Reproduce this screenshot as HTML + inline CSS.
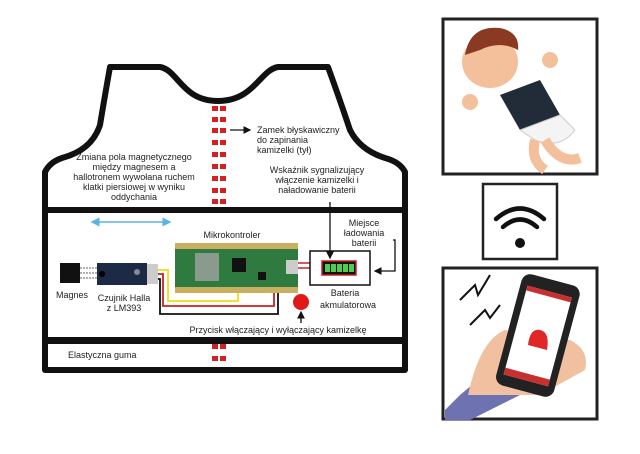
<!DOCTYPE html>
<html><head><meta charset="utf-8"><style>
body{margin:0;background:#fff;}
svg{display:block;font-family:"Liberation Sans",sans-serif;}
</style></head><body>
<svg width="640" height="454" viewBox="0 0 640 454" xmlns="http://www.w3.org/2000/svg">
<defs>
<marker id="ah" markerWidth="6" markerHeight="6" refX="5" refY="3" orient="auto"><path d="M0,0 L6,3 L0,6z" fill="#111"/></marker>
<marker id="bh" markerWidth="6" markerHeight="6" refX="5" refY="3" orient="auto-start-reverse"><path d="M0,0 L6,3 L0,6z" fill="#5ab4e0"/></marker>
</defs>
<!-- vest -->
<path d="M110,67 L160,67 C178,70 182,101 218,101 C254,101 260,70 278,67 L328,67 Q340,100 350,130 Q360,150 385,158 Q400,162 405,172 L405,370 L45,370 L45,172 Q50,162 62,158 Q92,150 100,125 Q105,95 110,67 Z" fill="#fff" stroke="#111" stroke-width="6" stroke-linejoin="round"/>
<rect x="45" y="207" width="360" height="6" fill="#111"/>
<rect x="45" y="337" width="360" height="7" fill="#111"/>
<!-- red dashes -->
<g fill="#d42020">
<rect x="212" y="106" width="6" height="5"/><rect x="220" y="106" width="6" height="5"/>
<rect x="212" y="117" width="6" height="5"/><rect x="220" y="117" width="6" height="5"/>
<rect x="212" y="128" width="6" height="5"/><rect x="220" y="128" width="6" height="5"/>
<rect x="212" y="140" width="6" height="5"/><rect x="220" y="140" width="6" height="5"/>
<rect x="212" y="152" width="6" height="5"/><rect x="220" y="152" width="6" height="5"/>
<rect x="212" y="164" width="6" height="5"/><rect x="220" y="164" width="6" height="5"/>
<rect x="212" y="176" width="6" height="5"/><rect x="220" y="176" width="6" height="5"/>
<rect x="212" y="188" width="6" height="5"/><rect x="220" y="188" width="6" height="5"/>
<rect x="212" y="199" width="6" height="5"/><rect x="220" y="199" width="6" height="5"/>
<rect x="212" y="344" width="6" height="5"/><rect x="220" y="344" width="6" height="5"/>
<rect x="212" y="356" width="6" height="5"/><rect x="220" y="356" width="6" height="5"/>
</g>
<line x1="230" y1="130" x2="250" y2="130" stroke="#111" stroke-width="1.3" marker-end="url(#ah)"/>
<g font-size="9" fill="#222">
<text x="257" y="133">Zamek błyskawiczny</text>
<text x="257" y="143">do zapinania</text>
<text x="257" y="153">kamizelki (tył)</text>
<g text-anchor="middle">
<text x="134" y="160">Zmiana pola magnetycznego</text>
<text x="134" y="170">między magnesem a</text>
<text x="134" y="180">hallotronem wywołana ruchem</text>
<text x="134" y="190">klatki piersiowej w wyniku</text>
<text x="134" y="200">oddychania</text>
<text x="317" y="173">Wskaźnik sygnalizujący</text>
<text x="317" y="183">włączenie kamizelki i</text>
<text x="317" y="193">naładowanie baterii</text>
<text x="364" y="226">Miejsce</text>
<text x="364" y="236">ładowania</text>
<text x="364" y="246">baterii</text>
<text x="232" y="238">Mikrokontroler</text>
<text x="72" y="298">Magnes</text>
<text x="124" y="301">Czujnik Halla</text>
<text x="124" y="311">z LM393</text>
<text x="345" y="296">Bateria</text>
<text x="348" y="308">akmulatorowa</text>
<text x="278" y="333">Przycisk włączający i wyłączający kamizelkę</text>
</g>
<text x="68" y="358">Elastyczna guma</text>
</g>
<line x1="92" y1="222" x2="170" y2="222" stroke="#5ab4e0" stroke-width="1.5" marker-start="url(#bh)" marker-end="url(#bh)"/>
<!-- magnet & sensor -->
<rect x="60" y="263" width="20" height="20" fill="#111"/>
<g stroke="#333" stroke-dasharray="2,1" stroke-width="0.8"><line x1="80" y1="268" x2="98" y2="268"/><line x1="80" y1="273" x2="98" y2="273"/><line x1="80" y1="278" x2="98" y2="278"/></g>
<rect x="97" y="263" width="50" height="22" fill="#1d2a45"/>
<rect x="147" y="264" width="11" height="20" fill="#ccc"/>
<circle cx="102" cy="274" r="3" fill="#000"/>
<circle cx="137" cy="272" r="3" fill="#889"/>
<!-- wires -->
<path d="M158,270 L168,270 L168,301 L238,301 L238,292" fill="none" stroke="#f0e030" stroke-width="2"/>
<path d="M158,274 L163,274 L163,306 L274,306 L274,292" fill="none" stroke="#c82020" stroke-width="1.8"/>
<path d="M158,279 L160,279 L160,314 L278,314 L278,292" fill="none" stroke="#111" stroke-width="1.8"/>
<path d="M298,263 L310,263 M298,268 L310,268" stroke="#c82020" stroke-width="1.5"/>
<!-- MCU -->
<rect x="175" y="243" width="123" height="50" fill="#2f7a3e"/>
<rect x="175" y="243" width="123" height="6" fill="#c8b060"/>
<rect x="175" y="287" width="123" height="6" fill="#c8b060"/>
<rect x="195" y="253" width="24" height="28" fill="#8a9a8c"/>
<rect x="232" y="258" width="14" height="14" fill="#111"/>
<rect x="286" y="260" width="12" height="14" fill="#ccc"/>
<rect x="258" y="272" width="8" height="8" fill="#111"/>
<!-- battery -->
<rect x="310" y="251" width="60" height="34" fill="#fff" stroke="#111" stroke-width="1.5"/>
<rect x="322" y="261" width="34" height="14" fill="#111" stroke="#c82020" stroke-width="1.5"/>
<g fill="#4cd04c"><rect x="325" y="264" width="5" height="8"/><rect x="331" y="264" width="5" height="8"/><rect x="337" y="264" width="5" height="8"/><rect x="343" y="264" width="5" height="8"/><rect x="349" y="264" width="5" height="8"/></g>
<line x1="330" y1="202" x2="330" y2="258" stroke="#111" stroke-width="1.3" marker-end="url(#ah)"/>
<path d="M393,240 L395,240 L395,271 L375,271" fill="none" stroke="#111" stroke-width="1.3" marker-end="url(#ah)"/>
<circle cx="301" cy="302" r="8" fill="#e01818"/>
<line x1="301" y1="323" x2="301" y2="312" stroke="#111" stroke-width="1.3" marker-end="url(#ah)"/>
<!-- right panels -->
<rect x="443" y="19" width="154" height="155" fill="#fff" stroke="#222" stroke-width="3"/>
<rect x="483" y="184" width="74" height="75" fill="#fff" stroke="#222" stroke-width="2.5"/>
<rect x="443" y="268" width="154" height="151" fill="#fff" stroke="#222" stroke-width="3"/>
<!-- baby -->
<ellipse cx="490" cy="62" rx="28" ry="26" fill="#f4c09c"/>
<path d="M465,55 Q470,25 500,28 Q520,32 518,50 Q500,40 480,50 Z" fill="#8a3a22"/>
<path d="M500,95 L540,80 L560,115 L520,130 Z" fill="#222c38"/>
<path d="M520,130 L560,115 L575,130 Q560,150 535,140 Z" fill="#f4f4f4" stroke="#ccc"/>
<path d="M545,140 Q560,165 580,158" stroke="#f4c09c" stroke-width="10" fill="none"/>
<path d="M535,140 Q530,160 545,170" stroke="#f4c09c" stroke-width="10" fill="none"/>
<circle cx="550" cy="60" r="8" fill="#f4c09c"/>
<circle cx="470" cy="102" r="8" fill="#f4c09c"/>
<!-- wifi -->
<g fill="none" stroke="#111" stroke-width="4.5" stroke-linecap="round">
<path d="M496,219 Q520,198 544,219"/><path d="M503,227 Q520,212 537,227"/>
</g>
<circle cx="520" cy="243" r="5" fill="#111"/>
<!-- phone -->
<path d="M445,410 L460,395 L490,370 L520,350 L520,395 L470,420 L445,420 Z" fill="#6f72b0"/>
<path d="M468,395 Q480,340 505,330 L570,340 Q590,350 585,370 L540,395 Z" fill="#f0c0a0"/>
<rect x="508" y="278" width="60" height="115" rx="9" fill="#222" transform="rotate(15 538 335)"/>
<rect x="515" y="290" width="46" height="92" fill="#fff" transform="rotate(15 538 335)"/>
<rect x="515" y="290" width="46" height="5" fill="#c83030" transform="rotate(15 538 335)"/>
<rect x="515" y="375" width="46" height="7" fill="#c83030" transform="rotate(15 538 335)"/>
<path d="M528,345 Q530,328 540,330 Q550,332 547,350 Z" fill="#e02828"/>
<path d="M460,300 L475,285 L478,295 L490,275 M470,325 L485,310 L490,318 L500,305" stroke="#111" stroke-width="2" fill="none"/>
</svg>
</body></html>
